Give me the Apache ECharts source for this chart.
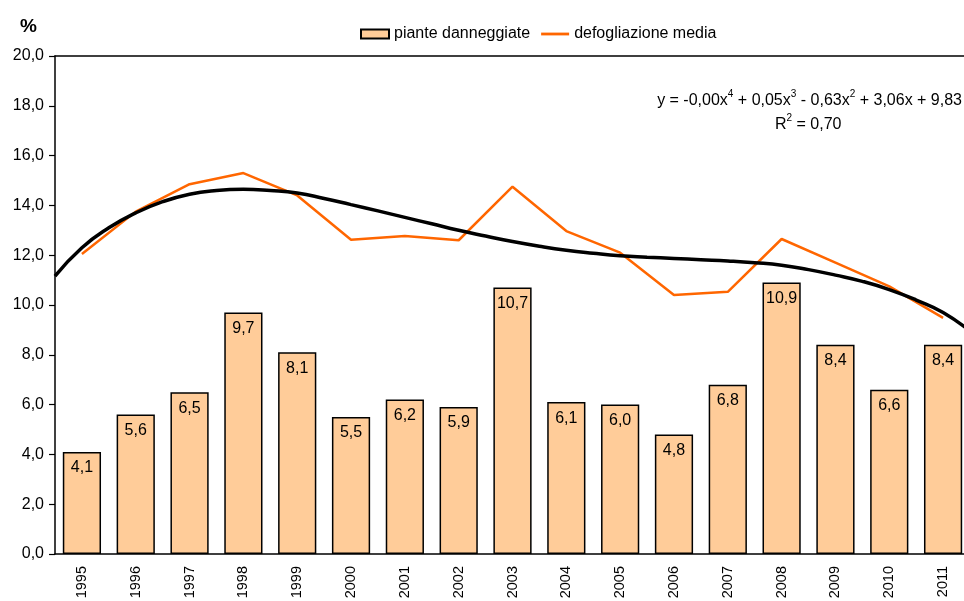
<!DOCTYPE html>
<html>
<head>
<meta charset="utf-8">
<script src="https://cdn.jsdelivr.net/npm/echarts@6/dist/echarts.min.js"></script>
<style>
  html, body { margin: 0; padding: 0; background: #fff; }
  #chart { width: 964px; height: 601px; }
</style>
</head>
<body>
<div id="chart"></div>
<script>
// anni
var years = ['1995', '1996', '1997', '1998', '1999', '2000', '2001', '2002', '2003',
             '2004', '2005', '2006', '2007', '2008', '2009', '2010', '2011'];
// piante danneggiate (%)
var damaged = [4.1, 5.6, 6.5, 9.7, 8.1, 5.5, 6.2, 5.9, 10.7, 6.1, 6.0, 4.8, 6.8, 10.9, 8.4, 6.6, 8.4];
// defogliazione media (%)
var defoliation = [12.05, 13.75, 14.85, 15.3, 14.4, 12.62, 12.77, 12.6, 14.75, 12.97, 12.1,
                   10.4, 10.53, 12.65, 11.7, 10.75, 9.48];
var trendYears = [1994.5, 1995, 1995.5, 1996, 1996.5, 1997, 1997.5, 1998, 1998.5, 1999, 1999.5,
                  2000, 2000.5, 2001, 2001.5, 2002, 2002.5, 2003, 2003.5, 2004, 2004.5,
                  2005, 2005.5, 2006, 2006.5, 2007, 2007.5, 2008, 2008.5, 2009, 2009.5,
                  2010, 2010.5, 2011, 2011.5];
var trendValues = [11.16, 12.3, 13.1, 13.7, 14.15, 14.45, 14.6, 14.65, 14.6, 14.5, 14.28,
                   14.03, 13.78, 13.52, 13.26, 13.0, 12.77, 12.55, 12.36, 12.2, 12.08,
                   11.98, 11.92, 11.87, 11.82, 11.77, 11.7, 11.6, 11.42, 11.2, 10.95,
                   10.62, 10.2, 9.7, 8.95];

var font = 'Liberation Sans, Arial, sans-serif';
function comma(v) { return v.toFixed(1).replace('.', ','); }

var chart = echarts.init(document.getElementById('chart'), null, { renderer: 'canvas' });

var supRich = {
    n: { fontFamily: font, fontSize: 16, color: '#000', lineHeight: 20, verticalAlign: 'bottom' },
    s: { fontFamily: font, fontSize: 10, color: '#000', lineHeight: 20, verticalAlign: 'top' }
};

var option = {
    backgroundColor: '#fff',
    animation: false,
    textStyle: { fontFamily: font, color: '#000' },
    title: {
        text: '%',
        left: 15,
        top: 12,
        textStyle: { fontFamily: font, fontSize: 19, fontWeight: 'bold', color: '#000' }
    },
    legend: {
        data: [
            { name: 'piante danneggiate', icon: 'rect' },
            { name: 'defogliazione media', icon: 'path://M0,0L30,0L30,3L0,3Z' }
        ],
        left: 355,
        top: 21,
        itemWidth: 28,
        itemHeight: 9,
        itemGap: 11,
        textStyle: { fontFamily: font, fontSize: 16, color: '#000' }
    },
    grid: {
        left: 55,
        top: 56,
        bottom: 47,
        width: 915,
        outerBoundsMode: 'none'
    },
    xAxis: [
        {
            type: 'category',
            data: years,
            boundaryGap: true,
            axisLine: { lineStyle: { color: '#000', width: 1.5 } },
            axisTick: { show: false },
            axisLabel: {
                rotate: 90,
                margin: 12,
                fontSize: 14.5,
                fontFamily: font,
                color: '#000'
            },
            splitLine: { show: false }
        },
        {
            type: 'value',
            position: 'top',
            min: 1994.5,
            max: 2011.5,
            axisLine: { show: true, lineStyle: { color: '#000', width: 1.5 } },
            axisTick: { show: false },
            axisLabel: { show: false },
            splitLine: { show: false }
        }
    ],
    yAxis: {
        type: 'value',
        min: 0,
        max: 20,
        interval: 2,
        axisLine: { show: true, lineStyle: { color: '#000', width: 1.5 } },
        axisTick: { show: true, length: 6, lineStyle: { color: '#000', width: 1.2 } },
        axisLabel: {
            margin: 11,
            fontSize: 16,
            fontFamily: font,
            color: '#000',
            formatter: function (v) { return comma(v); }
        },
        splitLine: { show: false }
    },
    graphic: [
        {
            type: 'text',
            right: 2,
            top: 89,
            style: {
                text: '{n|y = -0,00x}{s|4}{n| + 0,05x}{s|3}{n| - 0,63x}{s|2}{n| + 3,06x + 9,83}',
                rich: supRich
            }
        },
        {
            type: 'text',
            left: 775,
            top: 113,
            style: {
                text: '{n|R}{s|2}{n| = 0,70}',
                rich: supRich
            }
        }
    ],
    series: [
        {
            name: 'piante danneggiate',
            type: 'bar',
            data: damaged,
            barCategoryGap: '29%',
            itemStyle: { color: '#FFCC99', borderColor: '#000', borderWidth: 1.5 },
            label: {
                show: true,
                position: 'insideTop',
                distance: 8,
                fontSize: 16,
                fontFamily: font,
                color: '#000',
                formatter: function (p) { return comma(p.value); }
            },
            z: 2
        },
        {
            name: 'defogliazione media',
            type: 'line',
            data: defoliation,
            symbol: 'none',
            lineStyle: { color: '#FF6600', width: 2.5 },
            itemStyle: { color: '#FF6600' },
            z: 3
        },
        {
            name: 'tendenza',
            type: 'line',
            xAxisIndex: 1,
            data: trendYears.map(function (y, i) { return [y, trendValues[i]]; }),
            smooth: 0.5,
            symbol: 'none',
            lineStyle: { color: '#000', width: 3.5 },
            z: 4
        }
    ]
};

chart.setOption(option);
</script>
</body>
</html>
